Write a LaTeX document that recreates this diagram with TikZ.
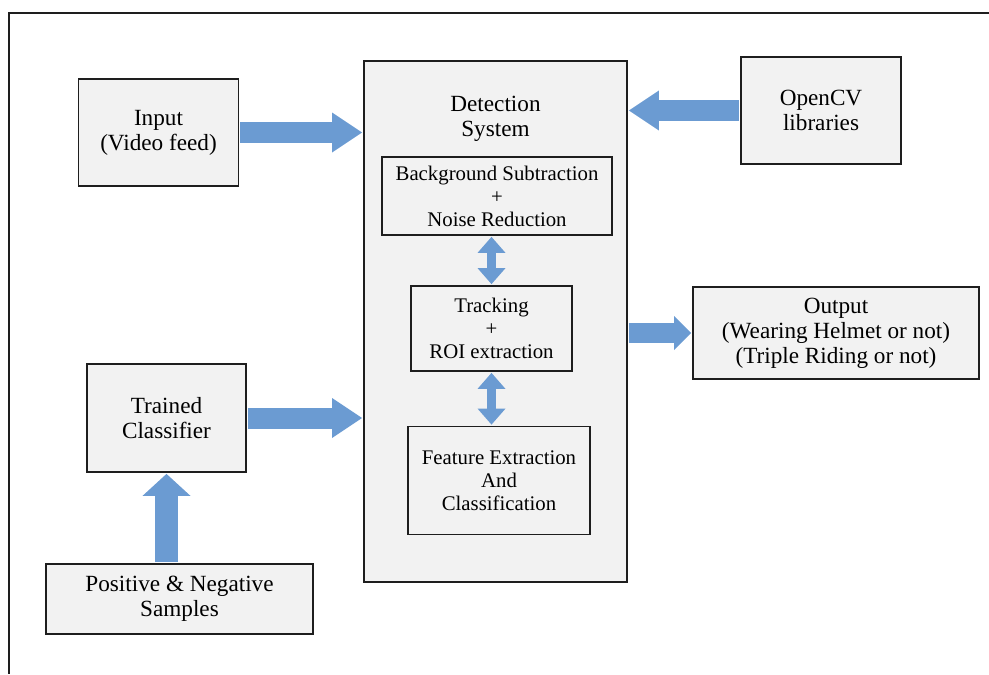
\documentclass[tikz,border=0pt]{standalone}
\usepackage{fontspec}
\setmainfont{Liberation Serif}
\usetikzlibrary{arrows.meta,positioning}
\definecolor{ink}{HTML}{1E1E1E}
\definecolor{boxfill}{HTML}{F2F2F2}
\definecolor{flow}{HTML}{6B9BD2}

\begin{document}
\begin{tikzpicture}[
  x=0.5pt, y=-0.5pt,
  box/.style={draw=ink, line width=0.9pt, fill=boxfill, align=center, inner sep=2pt, font=\fontsize{11.6}{12.5}\selectfont},
  sub/.style={box, font=\fontsize{10.4}{11.5}\selectfont},
  lab/.style={align=center, inner sep=2pt, font=\fontsize{11.6}{12.5}\selectfont},
  gap/.style={shorten <=0.5pt, shorten >=0.5pt},
  flowarr/.style={gap, draw=flow, line width=10.5pt, -{Triangle[length=15pt, width=20pt, line width=0pt]}},
  outarr/.style={gap, draw=flow, line width=10pt, -{Triangle[length=8.5pt, width=17pt, line width=0pt]}},
  uparr/.style={gap, draw=flow, line width=11.5pt, -{Triangle[length=11pt, width=24pt, line width=0pt]}},
  linkarr/.style={gap, draw=flow, line width=4.5pt, {Triangle[length=8pt, width=14pt, line width=0pt]}-{Triangle[length=8pt, width=14pt, line width=0pt]}},
]
\useasboundingbox (0,0) rectangle (989,674);
\draw[ink, line width=1pt] (989,13) -- (9,13) -- (9,674);

% detection system with its stages
\node[box, minimum width=131.5pt, minimum height=260.5pt] (det) at (495.5,321.5) {};
\node[lab, below=16pt of det.north] (detlab) {Detection\\System};
\node[sub, minimum width=115pt, minimum height=39pt] (bg) at (497,196) {Background Subtraction\\+\\Noise Reduction};
\node[sub, minimum width=80.5pt, minimum height=42.5pt] (track) at (491.5,328.5) {Tracking\\+\\ROI extraction};
\node[sub, minimum width=91pt, minimum height=54pt] (feat) at (499,480.5) {Feature Extraction\\And\\Classification};

% surrounding blocks
\node[box, minimum width=80pt, minimum height=53.5pt] (input) at (158.5,132.5) {Input\\(Video feed)};
\node[box, minimum width=80pt, minimum height=53.5pt] (opencv) at (821,110.5) {OpenCV\\libraries};
\node[box, minimum width=143pt, minimum height=46pt] (output) at (836,333) {Output\\(Wearing Helmet or not)\\(Triple Riding or not)};
\node[box, minimum width=79.5pt, minimum height=54pt] (trained) at (166.5,418) {Trained\\Classifier};
\node[box, minimum width=133.5pt, minimum height=35pt] (pos) at (179.5,599) {Positive \& Negative\\Samples};

\draw[flowarr] (input.east) -- (input.east -| det.west);
\draw[flowarr] (opencv.west) -- (opencv.west -| det.east);
\draw[flowarr] (trained.east) -- (trained.east -| det.west);
\draw[outarr] (det.east |- output.west) -- (output.west);
\draw[uparr] (pos.north -| trained.south) -- (trained.south);
\draw[linkarr] (track.north) -- (track.north |- bg.south);
\draw[linkarr] (track.south) -- (track.south |- feat.north);
\end{tikzpicture}
\end{document}
